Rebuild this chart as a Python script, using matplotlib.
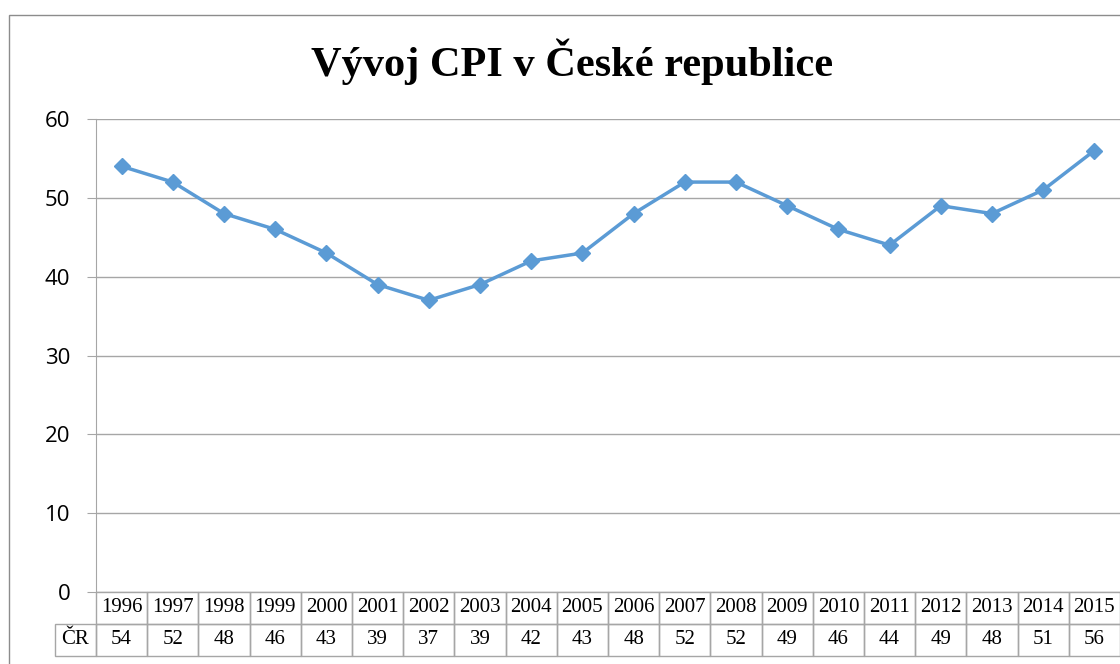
import matplotlib.pyplot as plt
import matplotlib.transforms as mtransforms
from matplotlib.patches import Rectangle

years = ['1996', '1997', '1998', '1999', '2000', '2001', '2002', '2003', '2004', '2005',
         '2006', '2007', '2008', '2009', '2010', '2011', '2012', '2013', '2014', '2015']
cpi = [54, 52, 48, 46, 43, 39, 37, 39, 42, 43, 48, 52, 52, 49, 46, 44, 49, 48, 51, 56]
row_label = 'ČR'
title = 'Vývoj CPI v České republice'

W, H = 1120, 664
fig = plt.figure(figsize=(W / 100, H / 100), dpi=100)
fig.patch.set_facecolor('white')

# outer chart border (cropped at right and bottom)
fig.patches.append(Rectangle((9 / W, -0.1), 1.2, 1 - 15 / H + 0.1, transform=fig.transFigure,
                             fill=False, edgecolor='#8c8c8c', linewidth=1.0))

ax = fig.add_axes([96 / W, 1 - 592 / H, 1 - 96 / W, (592 - 119) / H])
x = range(len(years))
ax.plot(x, cpi, color='#5B9BD5', linewidth=2.5, marker='D', markersize=8.5, clip_on=False)

ax.set_xlim(-0.5, len(years) - 0.5)
ax.set_ylim(0, 60)
ax.set_yticks(range(0, 61, 10))
ax.yaxis.grid(True, color='#a6a6a6', linewidth=1.0)
ax.set_axisbelow(True)
ax.set_xticks([])
for s in ['top', 'right', 'bottom']:
    ax.spines[s].set_visible(False)
ax.spines['left'].set_color('#a6a6a6')
ax.tick_params(axis='y', length=6.5, color='#a6a6a6', labelsize=16, pad=12)
for lab in ax.get_yticklabels():
    lab.set_fontfamily('Open Sans')

fig.text(572 / W, 1 - 62 / H, title, ha='center', va='center',
         fontsize=30.5, fontweight='bold', family='Liberation Serif')

# data table under the axis
tr = mtransforms.blended_transform_factory(ax.transData, ax.transAxes)
ah = (592 - 119)
rh = 32 / ah
cell_kw = dict(fill=False, edgecolor='#a6a6a6', linewidth=1.0, clip_on=False, transform=tr)
txt_kw = dict(ha='center', va='center', fontsize=15, family='Liberation Serif',
              transform=tr, clip_on=False)
for i, (yr, v) in enumerate(zip(years, cpi)):
    ax.add_patch(Rectangle((i - 0.5, -rh), 1, rh, **cell_kw))
    ax.add_patch(Rectangle((i - 0.5, -2 * rh), 1, rh, **cell_kw))
    ax.text(i, -rh / 2, yr, **txt_kw)
    ax.text(i, -1.5 * rh, str(v), **txt_kw)

lw = 41 / ((W - 96) / len(years))
ax.add_patch(Rectangle((-0.5 - lw, -2 * rh), lw, rh, **cell_kw))
ax.text(-0.5 - lw / 2, -1.5 * rh, row_label, **txt_kw)

fig.savefig('out.png', dpi=100)
